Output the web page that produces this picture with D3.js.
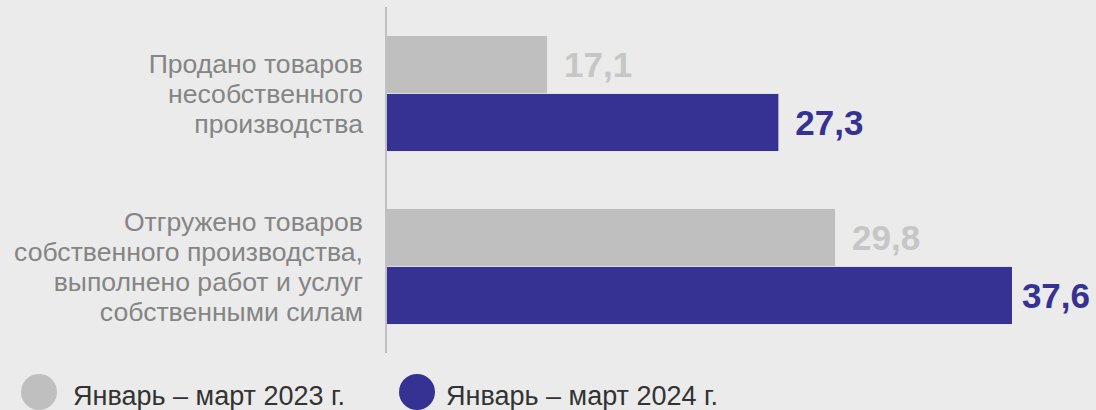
<!DOCTYPE html>
<html>
<head>
	<meta charset="utf-8">
	<title></title>
	<style>
		body { margin: 0; background: #ebebeb; }
		svg { display: block; font-family: "Liberation Sans", Arial, sans-serif; }
		.cat { fill: #858585; font-size: 26.6px; }
		.val { font-weight: bold; font-size: 35px; }
		.leg { fill: #333; font-size: 27px; }
	</style>
</head>
<body>
	<svg id="container" height="410" width="1096"></svg>
</body>
<script src="https://d3js.org/d3.v7.min.js"></script>
<script>
	// categories (each one broken into lines the way the picture shows them)
	let categories = ["sold", "shipped"]
	let categoryLines = [
		["Продано товаров", "несобственного", "производства"],
		["Отгружено товаров", "собственного производства,", "выполнено работ и услуг", "собственными силам"]
	]
	let seriesNames = ["Январь – март 2023 г.", "Январь – март 2024 г."]
	let values2023 = [17.1, 29.8]
	let values2024 = [27.3, 37.6]
	let seriesColors = ["#bfbfbf", "#363294"]
	let labelColors = ["#c6c6c6", "#363294"]

	let svg = d3.select("#container")
	let width = 1096

	let data = categories.map((c, i) => ({
		cat: c,
		lines: categoryLines[i],
		vals: [values2023[i], values2024[i]]
	}))

	// axis starts at 10, not 0
	let x = d3.scaleLinear()
		.domain([10, 40])
		.range([386, 1066.4])

	let y = d3.scaleBand()
		.domain(categories)
		.range([7, 353])
		.padding(0)

	let ySub = d3.scaleBand()
		.domain([0, 1])
		.range([0, y.bandwidth()])
		.paddingInner(0.015)
		.paddingOuter(0.5)

	let g = svg.selectAll(".group")
		.data(data)
		.enter()
		.append("g")
		.attr("transform", d => `translate(0,${y(d.cat)})`)

	g.selectAll("rect")
		.data(d => d.vals)
		.enter()
		.append("rect")
		.attr("x", x(10))
		.attr("y", (v, i) => ySub(i))
		.attr("width", v => x(v) - x(10))
		.attr("height", ySub.bandwidth())
		.attr("fill", (v, i) => seriesColors[i])

	// value labels, pulled back if they run off the right edge
	g.selectAll(".val")
		.data(d => d.vals)
		.enter()
		.append("text")
		.attr("class", "val")
		.attr("x", v => x(v) + 17)
		.attr("y", (v, i) => ySub(i) + ySub.bandwidth() / 2)
		.attr("dy", "0.36em")
		.attr("fill", (v, i) => labelColors[i])
		.text(v => d3.format(".1f")(v).replace(".", ","))
		.each(function () {
			let b = this.getBBox()
			if (b.x + b.width > width - 6) {
				d3.select(this).attr("x", width - 6 - b.width)
			}
		})

	// category labels
	g.append("text")
		.attr("class", "cat")
		.attr("text-anchor", "end")
		.each(function (d) {
			let n = d.lines.length
			let lineH = 30
			d3.select(this).selectAll("tspan")
				.data(d.lines)
				.enter()
				.append("tspan")
				.attr("x", 363)
				.attr("y", (l, i) => y.bandwidth() / 2 + (i - (n - 1) / 2) * lineH)
				.attr("dy", "0.36em")
				.text(l => l)
		})

	// vertical axis line
	svg.append("line")
		.attr("x1", x(10)).attr("x2", x(10))
		.attr("y1", 7).attr("y2", 353)
		.attr("stroke", "#c0c0c0")
		.attr("stroke-width", 2)

	// legend
	let legX = [39, 417]
	let legTextX = [73, 446]
	let leg = svg.selectAll(".legItem")
		.data(seriesNames)
		.enter()
		.append("g")
		.attr("transform", (d, i) => `translate(${legX[i]},392)`)
	leg.append("circle")
		.attr("r", 18)
		.attr("fill", (d, i) => seriesColors[i])
	leg.append("text")
		.attr("class", "leg")
		.attr("x", (d, i) => legTextX[i] - legX[i])
		.attr("y", 13)
		.text(d => d)
</script>
</html>
